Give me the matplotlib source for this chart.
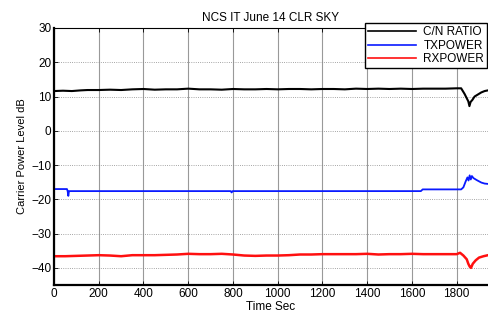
import matplotlib
matplotlib.use("Agg")
import matplotlib.pyplot as plt

# C/N ratio (dB) vs time (s)
cn_t = [0, 40, 80, 120, 150, 200, 250, 300, 350, 400, 450, 500, 550, 600, 650, 700,
        750, 800, 850, 900, 950, 1000, 1050, 1100, 1150, 1200, 1250, 1300, 1350, 1400,
        1450, 1500, 1550, 1600, 1650, 1700, 1750, 1800, 1820, 1835, 1845, 1852, 1857,
        1862, 1870, 1880, 1895, 1910, 1925, 1940]
cn_v = [11.6, 11.7, 11.6, 11.8, 11.9, 11.9, 12.0, 11.9, 12.1, 12.2, 12.0, 12.1, 12.1, 12.3, 12.1, 12.1,
        12.0, 12.2, 12.1, 12.1, 12.2, 12.1, 12.2, 12.2, 12.1, 12.2, 12.2, 12.1, 12.3, 12.2,
        12.3, 12.2, 12.3, 12.2, 12.3, 12.3, 12.3, 12.4, 12.4, 10.8, 9.5, 8.6, 7.2,
        8.4, 9.0, 10.0, 10.6, 11.2, 11.6, 11.8]

# TX power (dB)
tx_t = [0, 58, 61, 64, 67, 70, 790, 794, 798, 802, 1640, 1648, 1820, 1830, 1840, 1848,
        1853, 1858, 1863, 1868, 1875, 1890, 1910, 1925, 1940]
tx_v = [-17.0, -17.0, -17.6, -19.0, -17.6, -17.6, -17.6, -18.0, -17.6, -17.6, -17.6, -17.1, -17.1, -16.5, -14.8, -13.6,
        -14.5, -13.0, -14.2, -13.2, -13.8, -14.4, -15.1, -15.4, -15.5]

# RX power (dB)
rx_t = [0, 50, 100, 150, 200, 250, 300, 350, 400, 450, 500, 550, 600, 650, 700, 750,
        800, 850, 900, 950, 1000, 1050, 1100, 1150, 1200, 1250, 1300, 1350, 1400, 1450,
        1500, 1550, 1600, 1650, 1700, 1750, 1800, 1815, 1830, 1845, 1852, 1858, 1864,
        1872, 1885, 1900, 1920, 1940]
rx_v = [-36.6, -36.6, -36.5, -36.4, -36.3, -36.4, -36.6, -36.3, -36.3, -36.3, -36.2, -36.1, -35.9, -36.0, -36.0, -35.9,
        -36.1, -36.4, -36.5, -36.4, -36.4, -36.3, -36.1, -36.1, -36.0, -36.0, -36.0, -36.0, -35.9, -36.1,
        -36.0, -36.0, -35.9, -36.0, -36.0, -36.0, -36.0, -35.6, -36.4, -37.5, -38.8, -39.6, -40.0,
        -38.8, -37.8, -37.0, -36.6, -36.3]

xticks = list(range(0, 1801, 200))
yticks = list(range(-40, 31, 10))

plt.rcParams["font.family"] = ["Liberation Sans", "DejaVu Sans"]
fig = plt.figure(figsize=(4.88, 3.14), dpi=100)
ax = fig.add_axes([54 / 488, 1 - 285 / 314, 1 - 54 / 488, (285 - 28) / 314])

ax.plot(cn_t, cn_v, color="black", lw=1.5, label="C/N RATIO")
ax.plot(tx_t, tx_v, color="#0a1aff", lw=1.3, label="TXPOWER")
ax.plot(rx_t, rx_v, color="#ff1010", lw=1.8, label="RXPOWER")

ax.set_xlim(0, 1940)
ax.set_ylim(-45, 30)
ax.set_xticks(xticks)
ax.set_yticks(yticks)
ax.xaxis.grid(True, color="#999999", lw=0.8, ls="-")
ax.yaxis.grid(True, color="#888888", lw=0.6, ls=":")
ax.set_axisbelow(True)
ax.tick_params(direction="in", labelsize=8.5, length=3, width=0.6, top=True, right=False, pad=2)
for side in ("left", "bottom"):
    ax.spines[side].set_linewidth(1.6)
ax.spines["top"].set_linewidth(0.8)
ax.spines["right"].set_visible(False)

ax.set_title("NCS IT June 14 CLR SKY", fontsize=8.5, pad=5)
ax.set_xlabel("Time Sec", fontsize=8.5, labelpad=1)
ax.set_ylabel("Carrier Power Level dB", fontsize=8, labelpad=3)

leg = fig.legend(loc="upper right", bbox_to_anchor=(487 / 488, 1 - 23 / 314), fontsize=8.5,
                 fancybox=False, edgecolor="black", framealpha=1, borderaxespad=0,
                 handlelength=4.1, borderpad=0.25, labelspacing=0.15, handletextpad=0.6)
for h in leg.legend_handles:
    h.set_linewidth(1.2)

fig.savefig("out.png", dpi=100)
